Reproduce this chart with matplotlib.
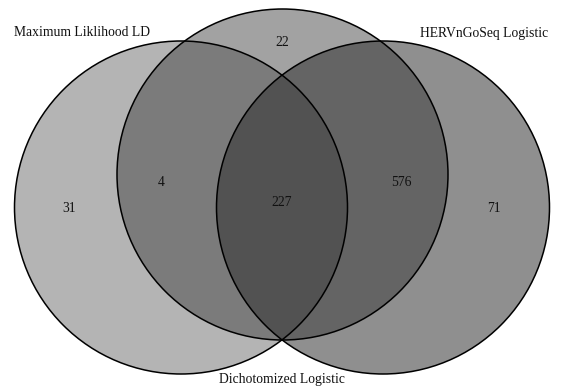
import matplotlib
matplotlib.use("Agg")
import matplotlib.pyplot as plt
from matplotlib.patches import Circle

set_names = ["Maximum Liklihood LD", "Dichotomized Logistic", "HERVnGoSeq Logistic"]
region_labels = ["Only ML", "ML & Dich", "Only Dich", "All three", "Dich & HERV", "Only HERV"]
region_counts = [31, 4, 22, 227, 576, 71]

fig = plt.figure(figsize=(5.64, 3.88), dpi=100)
ax = fig.add_axes([0, 0, 1, 1])
ax.set_xlim(0, 564)
ax.set_ylim(388, 0)
ax.set_aspect("equal")
ax.axis("off")

circles = [
    dict(c=(181, 207.5), r=166.5, color=(0.0, 0.0, 0.0), alpha=0.294),
    dict(c=(282.5, 174.5), r=165.5, color=(0.24, 0.24, 0.24), alpha=0.48),
    dict(c=(383, 207.5), r=166.5, color=(0.19, 0.19, 0.19), alpha=0.54),
]
for cc in circles:
    ax.add_patch(Circle(cc["c"], cc["r"], facecolor=cc["color"], alpha=cc["alpha"],
                        edgecolor="none", zorder=1))
for cc in circles:
    ax.add_patch(Circle(cc["c"], cc["r"], facecolor="none", edgecolor="black",
                        linewidth=1.1, zorder=2))

font = dict(family="Liberation Serif", fontsize=9.8, color="#111111")
count_pos = [(69, 209), (161, 183), (282, 43), (282, 203), (401, 183), (494, 209)]
for (x, y), v in zip(count_pos, region_counts):
    ax.text(x, y, str(v), ha="center", va="center", zorder=3, **font)

ax.text(14, 32, set_names[0], ha="left", va="center", **font)
ax.text(282, 379, set_names[1], ha="center", va="center", **font)
ax.text(548, 34, set_names[2], ha="right", va="center", **font)

fig.savefig("out.png", dpi=100, facecolor="white")
